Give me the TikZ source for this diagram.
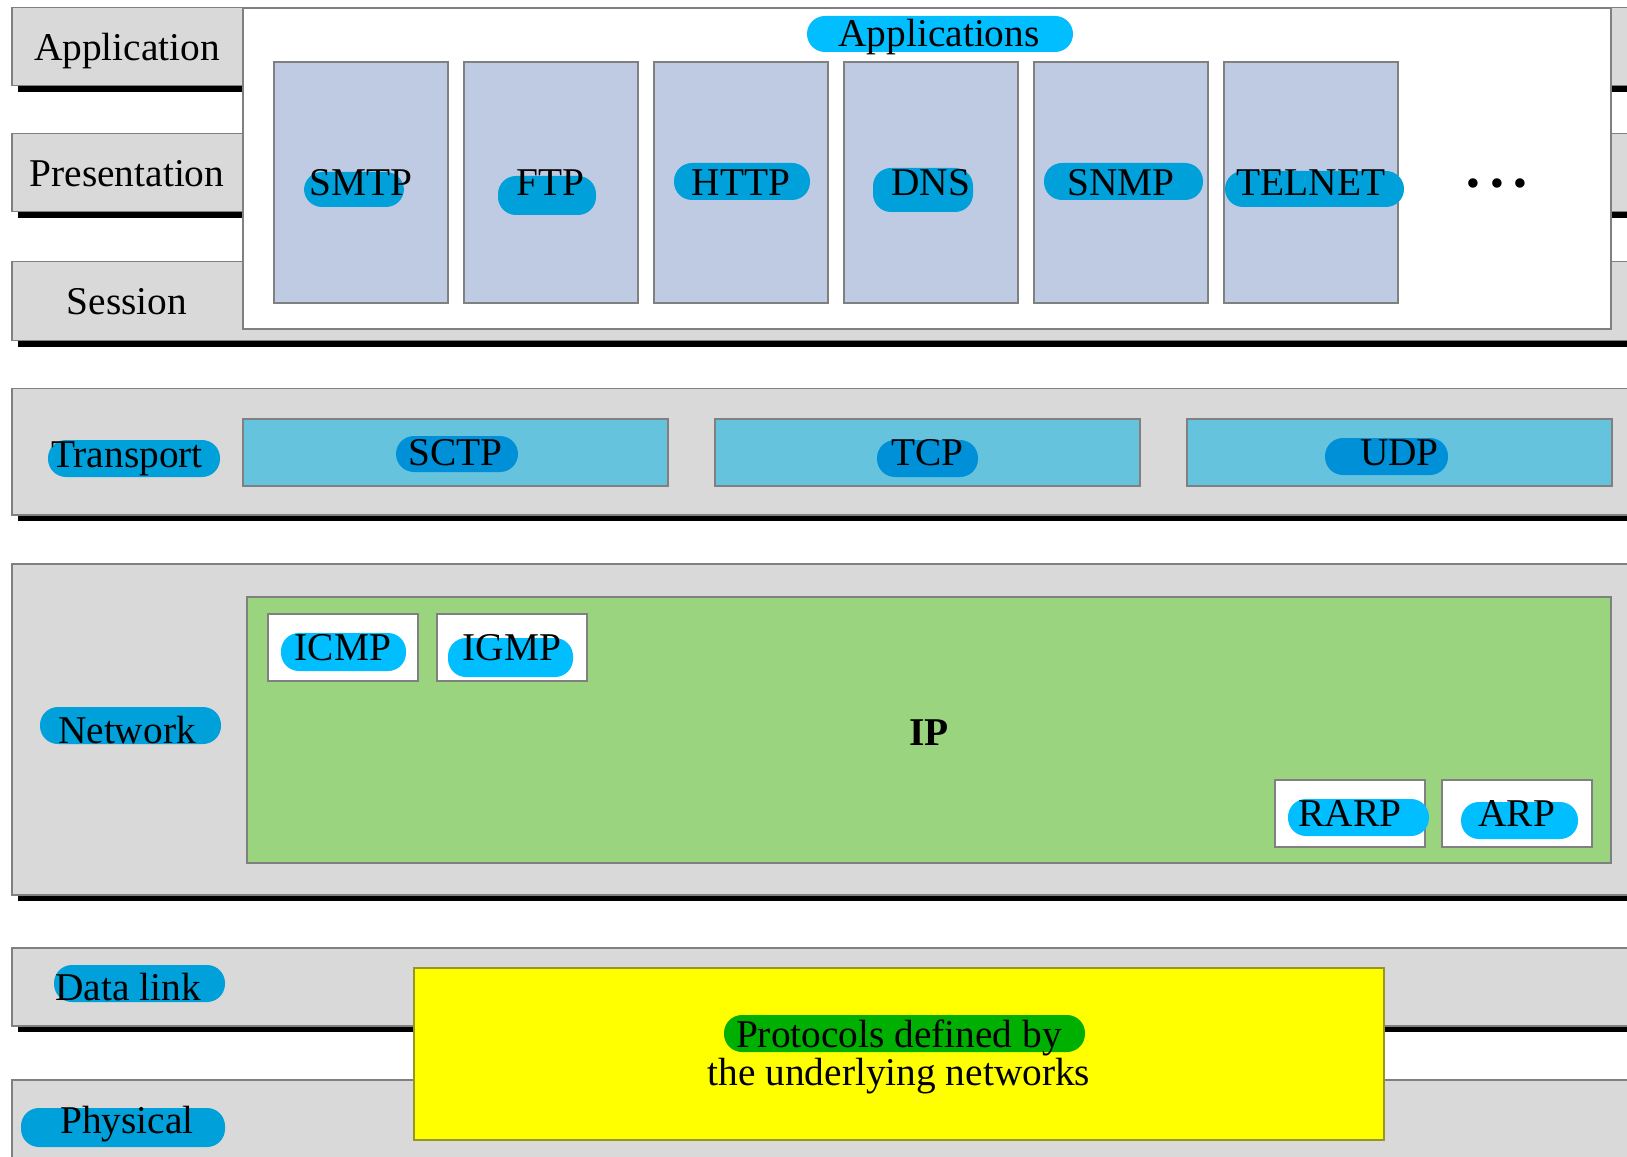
\documentclass[tikz,border=0pt]{standalone}
\usepackage{fontspec}
\setmainfont{Liberation Serif}
\usetikzlibrary{positioning}
\definecolor{bandgray}{RGB}{217,217,217}
\definecolor{edgegray}{RGB}{128,128,128}
\definecolor{appblue}{RGB}{191,203,227}
\definecolor{tpblue}{RGB}{102,195,222}
\definecolor{ipgreen}{RGB}{155,212,127}
\definecolor{underyellow}{RGB}{255,255,0}
\definecolor{yellowedge}{RGB}{150,150,40}
\definecolor{pillcyan}{RGB}{0,190,255}
\definecolor{pillblue}{RGB}{0,160,218}
\definecolor{pilldeep}{RGB}{0,144,216}
\definecolor{pillgreen}{RGB}{0,176,0}
\tikzset{
band/.style={draw=edgegray, fill=bandgray, line width=0.15mm, anchor=north west, inner sep=0, minimum width=163mm}, % one layer of the stack
pbox/.style={draw=edgegray, line width=0.18mm, anchor=north west, inner sep=0}, % protocol boxes
appbox/.style={pbox, fill=appblue, minimum width=17.4mm, minimum height=24.1mm},
tpbox/.style={pbox, fill=tpblue, minimum width=42.5mm, minimum height=6.7mm},
subbox/.style={pbox, fill=white, minimum width=15mm, minimum height=6.7mm},
pill/.style={rounded corners=1.8mm}, % highlighter strokes
lbl/.style={font=\fontsize{11.2}{11}\selectfont, inner sep=0},
}

\begin{document}
\begin{tikzpicture}[x=0.1mm, y=-0.1mm]
\useasboundingbox (0,0) rectangle (1627,1157);
\clip (0,0) rectangle (1627,1157);

% layers with their shadow
\foreach \nm/\yy/\hh in {appl/7/7.8, pres/133/7.8, sess/261/7.9, trans/388/12.6, netw/563/33.1, dlink/947/7.8, phys/1079/10}{
  \node[band, minimum height=\hh mm] (\nm) at (11,\yy) {};
  \fill ([xshift=0.7mm]\nm.south west) rectangle ([yshift=-0.55mm]\nm.south east);
}

% application protocols
\node[pbox, fill=white, minimum width=136.8mm, minimum height=32.1mm] (apps) at (242,7) {};
\foreach \nm [count=\i from 0] in {smtp,ftp,http,dns,snmp,telnet}
  \node[appbox] (\nm) at ({273+190*\i},61) {};

% transport
\node[tpbox] (sctp) at (242,418) {};
\node[tpbox] (tcp) at (714,418) {};
\node[tpbox] (udp) at (1186,418) {};

% network
\node[pbox, fill=ipgreen, minimum width=136.4mm, minimum height=26.6mm] (ip) at (246,596) {};
\node[subbox] (icmp) at (267,613) {};
\node[subbox, right=1.7mm of icmp] (igmp) {};
\node[subbox] (rarp) at (1274,779) {};
\node[subbox, right=1.5mm of rarp] (arp) {};

% data link and physical
\node[pbox, fill=underyellow, draw=yellowedge, minimum width=97mm, minimum height=17.2mm] (under) at (413,967) {};

% highlights
\foreach \xa/\ya/\xb/\yb/\col in {807/16/1073/52/pillcyan, 304/172/404/207/pillblue, 498/176/596/215/pillblue,
  674/163/810/200/pillblue, 873/168/973/212/pillblue, 1044/163/1203/200/pillblue, 1225/171/1404/207/pillblue,
  48/440/220/477/pillblue, 396/436/518/472/pilldeep, 877/440/978/477/pilldeep, 1325/438/1448/475/pilldeep,
  40/707/221/744/pillblue, 281/633/406/671/pillcyan, 448/638/573/677/pillcyan, 1288/799/1429/836/pillcyan,
  1461/802/1578/839/pillcyan, 54/965/225/1002/pillblue, 21/1108/225/1147/pillblue, 724/1015/1085/1052/pillgreen}
  \fill[pill, \col] (\xa,\ya) rectangle (\xb,\yb);

% layer names
\node[lbl] (applname) at (127,51) {Application};
\node[lbl] (presname) at (127,174) {Presentation};
\node[lbl] (sessname) at (127,302) {Session};
\node[lbl] (transname) at (127,459) {Transport};
\node[lbl] (netwname) at (127,730) {Network};
\node[lbl] (dlinkname) at (128,987) {Data link};
\node[lbl] (physname) at (127,1124) {Physical};

% protocol names
\node[lbl] (appstitle) at (939,37) {Applications};
\foreach \nm/\txt in {smtp/SMTP, ftp/FTP, http/HTTP, dns/DNS, snmp/SNMP, telnet/TELNET, sctp/SCTP, tcp/TCP, udp/UDP, icmp/ICMP, igmp/IGMP, rarp/RARP, arp/ARP}
  \node[lbl] at (\nm) {\txt};
\node[lbl] (more) at (1497,188) {\textbullet\ \textbullet\ \textbullet};
\node[lbl, font=\fontsize{11.2}{11}\selectfont\bfseries] at ([yshift=-0.3mm]ip.center) {IP};
\node[lbl, align=center] at ([yshift=-0.3mm]under.center) {Protocols defined by\\the underlying networks};
\end{tikzpicture}
\end{document}
